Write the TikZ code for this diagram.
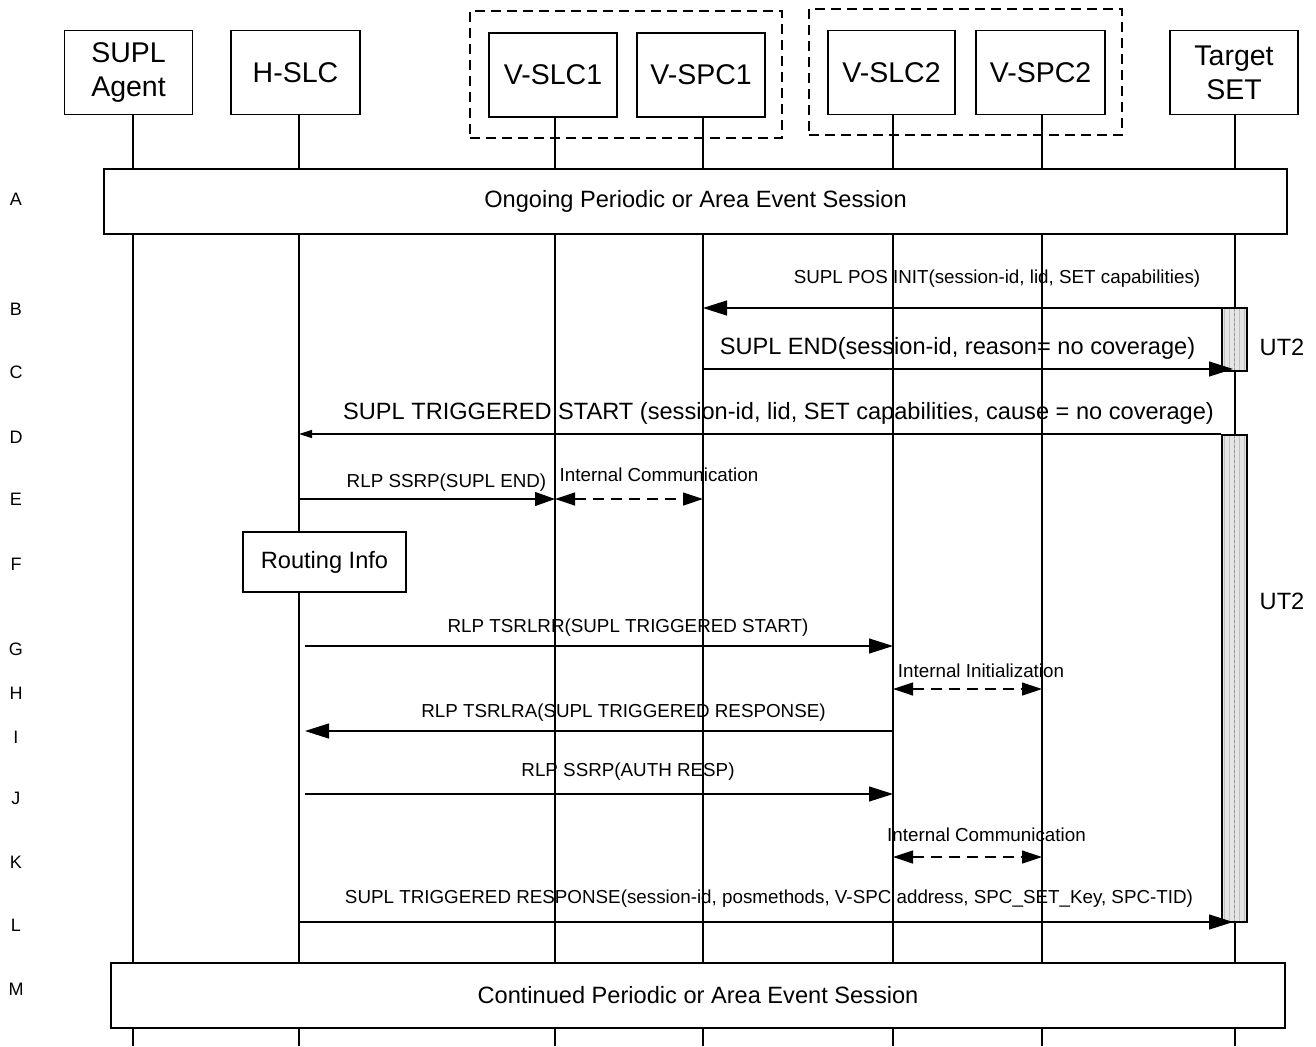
\documentclass[tikz,border=0pt]{standalone}
\usepackage{fontspec}
\setmainfont{Liberation Sans}
\usetikzlibrary{arrows.meta}
\begin{document}
\begin{tikzpicture}[x=1pt,y=-1pt,
  every node/.style={font=\fontsize{18.8}{22}\selectfont},
  ln/.style={line width=1.2pt},
  hdr/.style={draw, line width=1.2pt, fill=white, minimum width=128pt, minimum height=84pt, inner sep=0pt, align=center, font=\fontsize{28.5}{34}\selectfont},
  grp/.style={draw, line width=1.2pt, dash pattern=on 10pt off 6pt, inner sep=0pt},
  phase/.style={draw, line width=1.2pt, fill=white, inner sep=0pt, font=\fontsize{23.6}{28}\selectfont},
  lbl/.style={inner sep=0pt, font=\fontsize{18.8}{22}\selectfont},
  biglbl/.style={inner sep=0pt, font=\fontsize{23.6}{28}\selectfont},
  rowl/.style={inner sep=0pt, font=\fontsize{18}{21}\selectfont},
  msg/.style={line width=1.2pt, -{Triangle[length=24pt,width=15pt]}},
  msgm/.style={line width=1.2pt, -{Triangle[length=20pt,width=14pt]}},
  msgs/.style={line width=1.2pt, -{Triangle[length=13pt,width=8pt]}},
  dbl/.style={line width=1.2pt, dash pattern=on 11pt off 7pt, {Triangle[length=20pt,width=13pt]}-{Triangle[length=20pt,width=13pt]}},
  barbox/.style={draw, line width=1.2pt, fill=gray!20, inner sep=0pt, minimum width=25pt,
    path picture={\draw[gray!50, line width=0.4pt, step=5] (path picture bounding box.south west) grid (path picture bounding box.north east);
      \draw[gray!80, dash pattern=on 3pt off 2pt, line width=0.9pt] (path picture bounding box.north) -- (path picture bounding box.south);}}
]
\useasboundingbox (0,0) rectangle (1316,1046);

% group boxes
\node[grp, minimum width=312pt, minimum height=127pt] (g1) at (626,74.5) {};
\node[grp, minimum width=313pt, minimum height=126pt] (g2) at (965.5,72) {};

% header boxes
\node[hdr] (agent) at (128.5,72.5) {SUPL\\Agent};
\node[hdr, minimum width=129pt] (hslc) at (295.5,72.5) {H-SLC};
\node[hdr] (vslc1) at (553,75) {V-SLC1};
\node[hdr] (vspc1) at (701,75) {V-SPC1};
\node[hdr, minimum width=127pt] (vslc2) at (891.5,72.5) {V-SLC2};
\node[hdr, minimum width=129pt] (vspc2) at (1040.5,72.5) {V-SPC2};
\node[hdr] (tset) at (1234,72.5) {Target\\SET};

% lifeline ends
\coordinate (lA) at (133,1046);
\coordinate (lH) at (299,1046);
\coordinate (lV1) at (555,1046);
\coordinate (lP1) at (703,1046);
\coordinate (lV2) at (893,1046);
\coordinate (lP2) at (1042,1046);
\coordinate (lT) at (1235,1046);

\draw[ln] (agent.south -| lA) -- (lA);
\draw[ln] (hslc.south -| lH) -- (lH);
\draw[ln] (vslc1.south -| lV1) -- (lV1);
\draw[ln] (vspc1.south -| lP1) -- (lP1);
\draw[ln] (vslc2.south -| lV2) -- (lV2);
\draw[ln] (vspc2.south -| lP2) -- (lP2);
\draw[ln] (tset.south -| lT) -- (lT);

% phase boxes
\node[phase, minimum width=1183pt, minimum height=65pt] (pA) at (695.5,201.5) {Ongoing Periodic or Area Event Session};
\node[phase, minimum width=1174pt, minimum height=65pt] (pM) at (698,995.5) {Continued Periodic or Area Event Session};

% routing info
\node[phase, minimum width=163pt, minimum height=60pt] (route) at (324.5,562) {Routing Info};

% activation bars
\node[barbox, minimum height=63pt] (bar1) at (1234.5,339.5) {};
\node[barbox, minimum height=487pt] (bar2) at (1234.5,678.5) {};
\coordinate (tipx) at (1233,0);
\coordinate (hx) at (305,0);

% rows
\coordinate (rB) at (0,308);
\coordinate (rC) at (0,369);
\coordinate (rD) at (0,434);
\coordinate (rE) at (0,499);
\coordinate (rG) at (0,646);
\coordinate (rH) at (0,689);
\coordinate (rI) at (0,731);
\coordinate (rJ) at (0,794);
\coordinate (rK) at (0,857);
\coordinate (rL) at (0,922);

% messages
\draw[msg] (bar1.west |- rB) -- (lP1 |- rB);
\node[lbl] (tB) at (997,279) {SUPL POS INIT(session-id, lid, SET capabilities)};

\draw[msg] (lP1 |- rC) -- (tipx |- rC);
\node[biglbl] (tC) at (957.5,348) {SUPL END(session-id, reason= no coverage)};

\draw[msgs] (bar2.west |- rD) -- (lH |- rD);
\node[biglbl] (tD) at (778.5,413) {SUPL TRIGGERED START (session-id, lid, SET capabilities, cause = no coverage)};

\draw[msgm] (lH |- rE) -- (lV1 |- rE);
\node[lbl] (tE) at (446.5,483) {RLP SSRP(SUPL END)};
\draw[dbl] (lV1 |- rE) -- (lP1 |- rE);
\node[lbl] (tE2) at (659,475) {Internal Communication};

\draw[msg] (hx |- rG) -- (lV2 |- rG);
\node[lbl] (tG) at (628,628) {RLP TSRLRR(SUPL TRIGGERED START)};

\draw[dbl] (lV2 |- rH) -- (lP2 |- rH);
\node[lbl] (tH) at (981,671) {Internal Initialization};

\draw[msg] (lV2 |- rI) -- (hx |- rI);
\node[lbl] (tI) at (623.5,713) {RLP TSRLRA(SUPL TRIGGERED RESPONSE)};

\draw[msg] (hx |- rJ) -- (lV2 |- rJ);
\node[lbl] (tJ) at (628,772) {RLP SSRP(AUTH RESP)};

\draw[dbl] (lV2 |- rK) -- (lP2 |- rK);
\node[lbl] (tK) at (986.5,835) {Internal Communication};

\draw[msg] (lH |- rL) -- (tipx |- rL);
\node[lbl] (tL) at (769,899) {SUPL TRIGGERED RESPONSE(session-id, posmethods, V-SPC address, SPC\_SET\_Key, SPC-TID)};

% UT2 labels
\node[biglbl] (ut1) at (1282,347) {UT2};
\node[biglbl] (ut2) at (1282,601) {UT2};

% row letters
\node[rowl] (kA) at (16,199) {A};
\node[rowl] (kB) at (16,309) {B};
\node[rowl] (kC) at (16,372) {C};
\node[rowl] (kD) at (16,437) {D};
\node[rowl] (kE) at (16,499) {E};
\node[rowl] (kF) at (16,564) {F};
\node[rowl] (kG) at (16,649) {G};
\node[rowl] (kH) at (16,693) {H};
\node[rowl] (kI) at (16,737) {I};
\node[rowl] (kJ) at (16,798) {J};
\node[rowl] (kK) at (16,862) {K};
\node[rowl] (kL) at (16,925) {L};
\node[rowl] (kM) at (16,989) {M};
\end{tikzpicture}
\end{document}
